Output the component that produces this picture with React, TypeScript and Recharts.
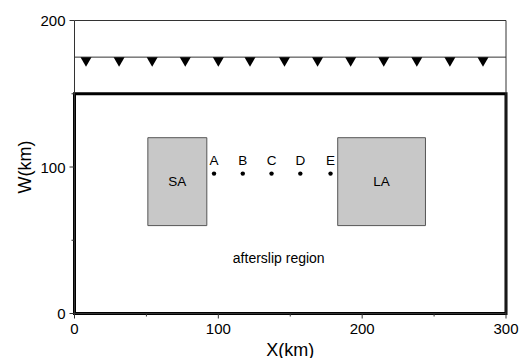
import {
  ComposedChart,
  ReferenceArea,
  ReferenceDot,
  ReferenceLine,
  Scatter,
  XAxis,
  YAxis,
} from "recharts";

// triangles marking the fault trace, X in km
const faultMarkX = [8, 31, 54, 77, 100, 122, 146, 169, 192, 215, 238, 261, 284];
const faultW = 175;

// observation points
const stationNames = ["A", "B", "C", "D", "E"];
const stationX = [97, 117, 137, 157, 178];
const stationW = 95.5;

// asperities and afterslip region (km)
const saX = [51, 92];
const saW = [60, 120];
const laX = [183, 244];
const laW = [60, 120];
const afterslipX = [0, 300];
const afterslipW = [0, 150];
const afterslipLabelAt = [142, 38];

const xTicks = [0, 50, 100, 150, 200, 250, 300];
const wTicks = [0, 50, 100, 150, 200];

const FONT = '"Liberation Sans", Arial, Helvetica, sans-serif';
const LINE = "#333";

const faultData = faultMarkX.map((x) => ({ x, w: faultW }));
const stationData = stationNames.map((name, i) => ({ x: stationX[i], w: stationW, name }));

type Side = "top" | "bottom" | "left" | "right";

function FrameTick({
  x = 0,
  y = 0,
  payload,
  side,
  showLabel,
}: {
  x?: number;
  y?: number;
  payload?: { value: number };
  side: Side;
  showLabel?: boolean;
}) {
  const v = payload?.value ?? 0;
  const major = v % 100 === 0;
  const len = major ? 5 : 3;
  let line;
  if (side === "bottom") line = <line x1={x} y1={y} x2={x} y2={y + len} stroke={LINE} />;
  else if (side === "top") line = <line x1={x} y1={y} x2={x} y2={y - len} stroke={LINE} />;
  else if (side === "left") line = <line x1={x} y1={y} x2={x - len} y2={y} stroke={LINE} />;
  else line = <line x1={x} y1={y} x2={x + len} y2={y} stroke={LINE} />;

  let label = null;
  if (showLabel && major) {
    if (side === "bottom")
      label = (
        <text x={x} y={y + 20} textAnchor="middle" fontSize={15} fill="#000">
          {v}
        </text>
      );
    else if (side === "left")
      label = (
        <text x={x - 9} y={y + 5.5} textAnchor="end" fontSize={15} fill="#000">
          {v}
        </text>
      );
  }
  return (
    <g>
      {line}
      {label}
    </g>
  );
}

function FaultMark({ cx = 0, cy = 0 }: { cx?: number; cy?: number }) {
  return (
    <polygon
      points={`${cx - 5.5},${cy} ${cx + 5.5},${cy} ${cx},${cy + 9.5}`}
      fill="#000"
    />
  );
}

function StationMark({
  cx = 0,
  cy = 0,
  payload,
}: {
  cx?: number;
  cy?: number;
  payload?: { name: string };
}) {
  return (
    <g>
      <circle cx={cx} cy={cy} r={2.2} fill="#000" />
      <text x={cx} y={cy - 8.5} textAnchor="middle" fontSize={13.5} fill="#000">
        {payload?.name}
      </text>
    </g>
  );
}

function XTitle({ viewBox }: { viewBox?: { x: number; y: number; width: number; height: number } }) {
  if (!viewBox) return null;
  return (
    <text
      x={viewBox.x + viewBox.width / 2}
      y={viewBox.y + 42}
      textAnchor="middle"
      fontSize={18}
      fill="#000"
    >
      X(km)
    </text>
  );
}

function YTitle({ viewBox }: { viewBox?: { x: number; y: number; width: number; height: number } }) {
  if (!viewBox) return null;
  const cx = viewBox.x + 25;
  const cy = viewBox.y + viewBox.height / 2;
  return (
    <text
      x={cx}
      y={cy}
      dy={6}
      transform={`rotate(-90, ${cx}, ${cy})`}
      textAnchor="middle"
      fontSize={18}
      fill="#000"
    >
      W(km)
    </text>
  );
}

export default function App() {
  return (
    <div style={{ position: "absolute", left: 0, top: 0, fontFamily: FONT }}>
      <ComposedChart
        width={530}
        height={358}
        margin={{ top: 0, right: 0, bottom: 0, left: 0 }}
        style={{ fontFamily: FONT }}
      >
        <XAxis
          dataKey="x"
          type="number"
          domain={[0, 300]}
          ticks={xTicks}
          interval={0}
          height={44.5}
          tickSize={0}
          tickMargin={0}
          tickLine={false}
          stroke={LINE}
          tick={<FrameTick side="bottom" showLabel />}
          label={<XTitle />}
        />
        <XAxis
          xAxisId="top"
          orientation="top"
          dataKey="x"
          type="number"
          domain={[0, 300]}
          ticks={xTicks}
          interval={0}
          height={20.5}
          tickSize={0}
          tickMargin={0}
          tickLine={false}
          stroke={LINE}
          tick={<FrameTick side="top" />}
        />
        <YAxis
          type="number"
          domain={[0, 200]}
          ticks={wTicks}
          interval={0}
          width={74.5}
          tickSize={0}
          tickMargin={0}
          tickLine={false}
          stroke={LINE}
          tick={<FrameTick side="left" showLabel />}
          label={<YTitle />}
        />
        <YAxis
          yAxisId="right"
          orientation="right"
          type="number"
          domain={[0, 200]}
          ticks={wTicks}
          interval={0}
          width={24}
          tickSize={0}
          tickMargin={0}
          tickLine={false}
          stroke={LINE}
          tick={<FrameTick side="right" />}
        />
        <ReferenceLine y={faultW} stroke={LINE} strokeWidth={1} />
        <ReferenceArea
          x1={afterslipX[0]}
          x2={afterslipX[1]}
          y1={afterslipW[0]}
          y2={afterslipW[1]}
          fill="none"
          fillOpacity={0}
          stroke="#000"
          strokeWidth={3}
        />
        <ReferenceArea
          x1={saX[0]}
          x2={saX[1]}
          y1={saW[0]}
          y2={saW[1]}
          fill="#c8c8c8"
          fillOpacity={1}
          stroke="#555"
          strokeWidth={1}
          label={{ value: "SA", position: "center", fontSize: 13.5, fill: "#000" }}
        />
        <ReferenceArea
          x1={laX[0]}
          x2={laX[1]}
          y1={laW[0]}
          y2={laW[1]}
          fill="#c8c8c8"
          fillOpacity={1}
          stroke="#555"
          strokeWidth={1}
          label={{ value: "LA", position: "center", fontSize: 13.5, fill: "#000" }}
        />
        <ReferenceDot
          x={afterslipLabelAt[0]}
          y={afterslipLabelAt[1]}
          r={0.01}
          fill="none"
          stroke="none"
          label={{ value: "afterslip region", position: "center", fontSize: 14, fill: "#000" }}
        />
        <Scatter
          data={faultData}
          dataKey="w"
          shape={<FaultMark />}
          isAnimationActive={false}
        />
        <Scatter
          data={stationData}
          dataKey="w"
          shape={<StationMark />}
          isAnimationActive={false}
        />
      </ComposedChart>
    </div>
  );
}
